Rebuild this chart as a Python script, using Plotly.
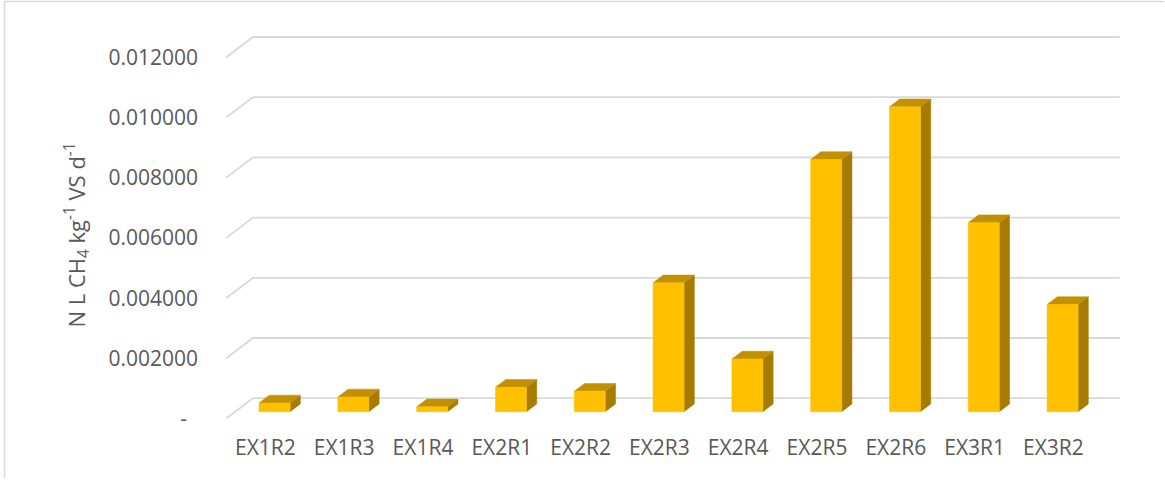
import plotly.graph_objects as go

# ---- data ----
categories = ["EX1R2", "EX1R3", "EX1R4", "EX2R1", "EX2R2", "EX2R3",
              "EX2R4", "EX2R5", "EX2R6", "EX3R1", "EX3R2"]
values = [0.00029, 0.00049, 0.00016, 0.00081, 0.00068, 0.00428,
          0.00175, 0.00838, 0.01013, 0.00628, 0.00356]
tick_values = [0, 0.002, 0.004, 0.006, 0.008, 0.010, 0.012]
tick_labels = ["-\u00a0\u00a0", "0.002000", "0.004000", "0.006000",
               "0.008000", "0.010000", "0.012000"]
y_title = "N L CH<sub>4</sub> kg<sup>-1</sup> VS d<sup>-1</sup>"

# ---- layout geometry (pixels) ----
W, H = 1165, 491
X0 = 226.0          # left edge of front plane
CAT = 78.8          # pixels per category
Y0 = 430.0          # front-plane zero
PPU = 61.83 / 0.002 # pixels per value unit
DEPTH_PX = (27.0, -21.0)

DX = DEPTH_PX[0] / CAT          # full depth in x data units
DY = -DEPTH_PX[1] / PPU         # full depth in y data units
F0, F1 = 0.34, 0.72             # bar front / back depth fractions
HALF = 0.197                    # bar half-width (category units)

FRONT = "#FFC000"
TOP = "#C29100"
SIDE = "#A67C00"
GRID = "#D9D9D9"
TEXT = "#595959"
FONT = "Open Sans"

fig = go.Figure()

# gridlines: left wall diagonal + back wall
n = len(categories)
gx, gy = [], []
for v in tick_values:
    gx += [-0.5, -0.5 + DX, -0.5 + n + DX, None]
    gy += [v, v + DY, v + DY, None]
fig.add_trace(go.Scatter(x=gx, y=gy, mode="lines",
                         line=dict(color=GRID, width=1.8),
                         hoverinfo="skip", showlegend=False))

# bars: front, top and side faces
fx, fy, tx, ty, sx, sy = [], [], [], [], [], []
for i, v in enumerate(values):
    xl, xr = i - HALF, i + HALF
    a0x, a0y = F0 * DX, F0 * DY
    a1x, a1y = F1 * DX, F1 * DY
    fx += [xl + a0x, xr + a0x, xr + a0x, xl + a0x, xl + a0x, None]
    fy += [a0y, a0y, v + a0y, v + a0y, a0y, None]
    tx += [xl + a0x, xr + a0x, xr + a1x, xl + a1x, xl + a0x, None]
    ty += [v + a0y, v + a0y, v + a1y, v + a1y, v + a0y, None]
    sx += [xr + a0x, xr + a1x, xr + a1x, xr + a0x, xr + a0x, None]
    sy += [a0y, a1y, v + a1y, v + a0y, a0y, None]

for xs, ys, c in [(sx, sy, SIDE), (tx, ty, TOP), (fx, fy, FRONT)]:
    fig.add_trace(go.Scatter(x=xs, y=ys, mode="lines", fill="toself",
                             fillcolor=c, line=dict(color=c, width=0.5),
                             hoverinfo="skip", showlegend=False))

fig.update_layout(
    width=W, height=H, autosize=False,
    margin=dict(l=0, r=0, t=0, b=0),
    paper_bgcolor="white", plot_bgcolor="rgba(0,0,0,0)",
    font=dict(family=FONT, color=TEXT, size=21),
    xaxis=dict(domain=[X0 / W, 1], range=[-0.5, -0.5 + (W - X0) / CAT],
               tickmode="array", tickvals=list(range(n)), ticktext=categories,
               showgrid=False, zeroline=False, showline=False,
               ticks="", ticklabelstandoff=14,
               tickfont=dict(family=FONT, size=21, color=TEXT),
               fixedrange=True),
    yaxis=dict(domain=[(H - Y0) / H, 1], range=[0, Y0 / PPU],
               tickmode="array", tickvals=tick_values, ticktext=tick_labels,
               showgrid=False, zeroline=False, showline=False,
               ticks="", ticklabelstandoff=27,
               tickfont=dict(family=FONT, size=21, color=TEXT),
               fixedrange=True),
    annotations=[dict(text=y_title, xref="paper", yref="paper",
                      x=77 / W, y=1 - 242 / H, showarrow=False,
                      textangle=-90, xanchor="center", yanchor="middle",
                      font=dict(family=FONT, size=22, color=TEXT))],
    shapes=[
        dict(type="line", xref="paper", yref="paper",
             x0=4.5 / W, x1=1164 / W, y0=1 - 1.5 / H, y1=1 - 1.5 / H,
             line=dict(color=GRID, width=1.5)),
        dict(type="line", xref="paper", yref="paper",
             x0=4.5 / W, x1=4.5 / W, y0=1 - 1.5 / H, y1=0,
             line=dict(color=GRID, width=1.5)),
    ],
)

fig.write_html("out.html", config={"displayModeBar": False})
